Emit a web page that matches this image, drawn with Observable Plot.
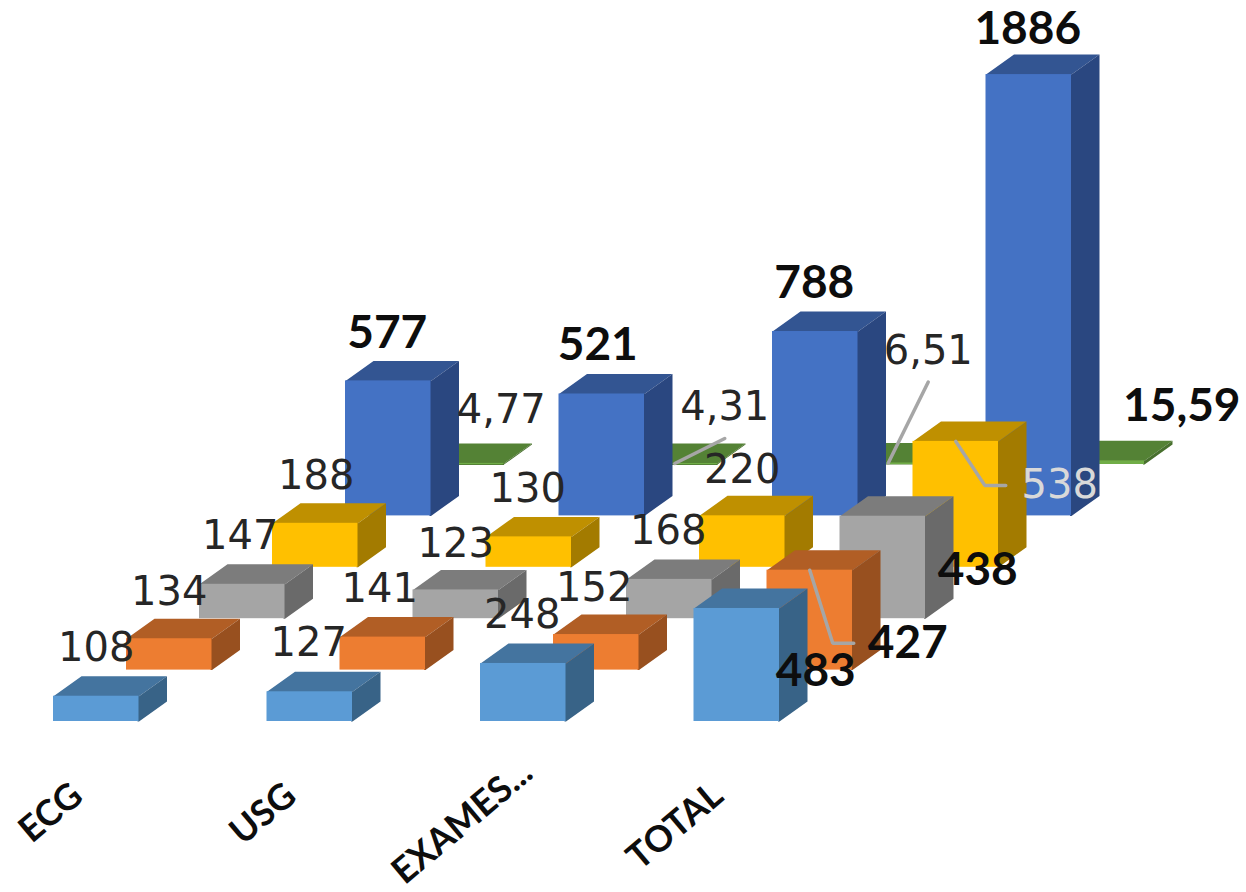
<!DOCTYPE html>
<html>
<head>
<meta charset="utf-8">
<script src="https://cdn.jsdelivr.net/npm/d3@7"></script>
<script src="https://cdn.jsdelivr.net/npm/@observablehq/plot@0.6"></script>
<style>html,body{margin:0;padding:0;background:#fff}svg{display:block}</style>
</head>
<body>
<div id="chart"></div>
<script>
// Data
const categories = ["ECG", "USG", "EXAMES...", "TOTAL"];
const lightBlueValues = [108, 127, 248, 483];
const orangeValues = [134, 141, 152, 427];
const grayValues = [147, 123, 168, 438];
const yellowValues = [188, 130, 220, 538];
const blueValues = [577, 521, 788, 1886];
const greenValues = [4.77, 4.31, 6.51, 15.59];
const seriesValues = [lightBlueValues, orangeValues, grayValues, yellowValues, blueValues, greenValues];

// Styles: front, top, side per row
const palette = [
  ["#5B9BD5", "#44749F", "#386387"],
  ["#ED7D31", "#B15E25", "#98501F"],
  ["#A5A5A5", "#7C7C7C", "#6A6A6A"],
  ["#FFC000", "#BF9000", "#A37B00"],
  ["#4472C4", "#335592", "#2A4780"],
  ["#70AD47", "#548235", "#48702E"]
];

// Oblique projection, px per unit
const W = 1246, H = 892;
const pxPerCat = 213.5, pxPerValue = 0.234;
const left = 53, base = 721;
const barW = 85.5 / pxPerCat, rowX = 73 / pxPerCat, rowY = 51.4 / pxPerValue;
const depthX = 28 / pxPerCat, depthY = 20 / pxPerValue;
const px = (p) => p / pxPerCat, pv = (p) => p / pxPerValue;
const seamX = px(1.5), seamY = pv(1.5);

const X = (c, r) => c + r * rowX;
const Y = (v, r) => v + r * rowY;

const marks = [];
for (let r = seriesValues.length - 1; r >= 0; r--) {
  const [front, top, side] = palette[r];
  const bars = seriesValues[r].map((v, c) => ({c, r, v}));
  const topPts = bars.flatMap((b) => [
    {id: b.c, x: X(b.c, r), y: Y(b.v, r) - seamY},
    {id: b.c, x: X(b.c, r), y: Y(b.v, r)},
    {id: b.c, x: X(b.c, r) + depthX, y: Y(b.v, r) + depthY},
    {id: b.c, x: X(b.c, r) + depthX + barW, y: Y(b.v, r) + depthY},
    {id: b.c, x: X(b.c, r) + barW, y: Y(b.v, r)},
    {id: b.c, x: X(b.c, r) + barW, y: Y(b.v, r) - seamY}
  ]);
  const sidePts = bars.flatMap((b) => [
    {id: b.c, x: X(b.c, r) + barW - seamX, y: Y(0, r)},
    {id: b.c, x: X(b.c, r) + barW, y: Y(0, r)},
    {id: b.c, x: X(b.c, r) + barW + depthX, y: Y(0, r) + depthY},
    {id: b.c, x: X(b.c, r) + barW + depthX, y: Y(b.v, r) + depthY},
    {id: b.c, x: X(b.c, r) + barW, y: Y(b.v, r)},
    {id: b.c, x: X(b.c, r) + barW - seamX, y: Y(b.v, r)}
  ]);
  marks.push(
    Plot.line(topPts, {x: "x", y: "y", z: "id", fill: top, stroke: "none"}),
    Plot.line(sidePts, {x: "x", y: "y", z: "id", fill: side, stroke: "none"}),
    Plot.rect(bars, {
      x1: (b) => X(b.c, r),
      x2: (b) => X(b.c, r) + barW,
      y1: (b) => Y(0, r),
      y2: (b) => Y(b.v, r),
      fill: front
    })
  );
}

// Data labels: pixel offset from the front-top centre of each bar
const labelOffset = {
  "0,0": [0, -48], "0,1": [-1, -49], "0,2": [-1, -48], "0,3": [79, 63],
  "1,0": [0, -47], "1,1": [-3, -48], "1,2": [-2, -46], "1,3": [98, 73],
  "2,0": [-2, -48], "2,1": [0, -46], "2,2": [-1, -48], "2,3": [95, 54],
  "3,0": [1, -47], "3,1": [-1, -48], "3,2": [0, -46], "3,3": [104, 44],
  "4,0": [-1, -48], "4,1": [-4, -49], "4,2": [-1, -48], "4,3": [-1, -45],
  "5,0": [40, -53], "5,1": [50, -56], "5,2": [40, -112], "5,3": [80, -55]
};
const fmt = (v) => String(v).replace(".", ",");
const labels = seriesValues.flatMap((vals, r) => vals.map((v, c) => {
  const [ox, oy] = labelOffset[r + "," + c];
  const ax = X(c, r) + barW / 2, ay = Y(v, r);
  return {
    text: fmt(v), r, c, ax, ay,
    x: ax + px(ox), y: ay - pv(oy),
    bold: (r === 4 || (c === 3 && r !== 3)),
    light: r === 3 && c === 3
  };
}));

// Leader lines
const leaderPts = [];
for (const l of labels) {
  const id = l.r + "-" + l.c;
  if (l.r === 5 && (l.c === 1 || l.c === 2)) {
    leaderPts.push({id, x: l.ax, y: l.ay}, {id, x: l.x, y: l.y - pv(31)});
  }
  if (l.c === 3 && (l.r === 1 || l.r === 3)) {
    const edge = l.x - px(39);
    leaderPts.push(
      {id, x: l.ax, y: l.ay},
      {id, x: edge - px(36), y: l.y},
      {id, x: edge - px(15), y: l.y}
    );
  }
}

marks.push(
  Plot.line(leaderPts, {x: "x", y: "y", z: "id", stroke: "#A6A6A6", strokeWidth: 3.5, strokeLinejoin: "miter"}),
  Plot.text(labels.filter((l) => !l.bold), {
    x: "x", y: "y", text: "text",
    fontFamily: "DejaVu Sans", fontSize: 40, fontWeight: 400,
    fill: (l) => l.light ? "#D9D9D9" : "#262626"
  }),
  Plot.text(labels.filter((l) => l.bold), {
    x: "x", y: "y", text: "text",
    fontFamily: "Lato", fontSize: 46, fontWeight: 700, fill: "#0D0D0D"
  }),
  Plot.text(categories.map((name, c) => ({name, c})), {
    x: (d) => d.c + px(d.c === 2 ? 47 : 24),
    y: (d) => pv(base - (d.c === 2 ? 767 : 790)),
    text: "name",
    textAnchor: "end",
    rotate: -40,
    fontFamily: "Lato", fontSize: 36, fontWeight: 700, fill: "#0D0D0D"
  })
);

const chart = Plot.plot({
  width: W, height: H,
  marginTop: 0, marginRight: 0, marginBottom: 0, marginLeft: 0,
  x: {domain: [-left / pxPerCat, (W - left) / pxPerCat], range: [0, W], axis: null},
  y: {domain: [-(H - base) / pxPerValue, base / pxPerValue], range: [H, 0], axis: null},
  style: {background: "#fff"},
  marks
});
document.getElementById("chart").append(chart);
</script>
</body>
</html>
